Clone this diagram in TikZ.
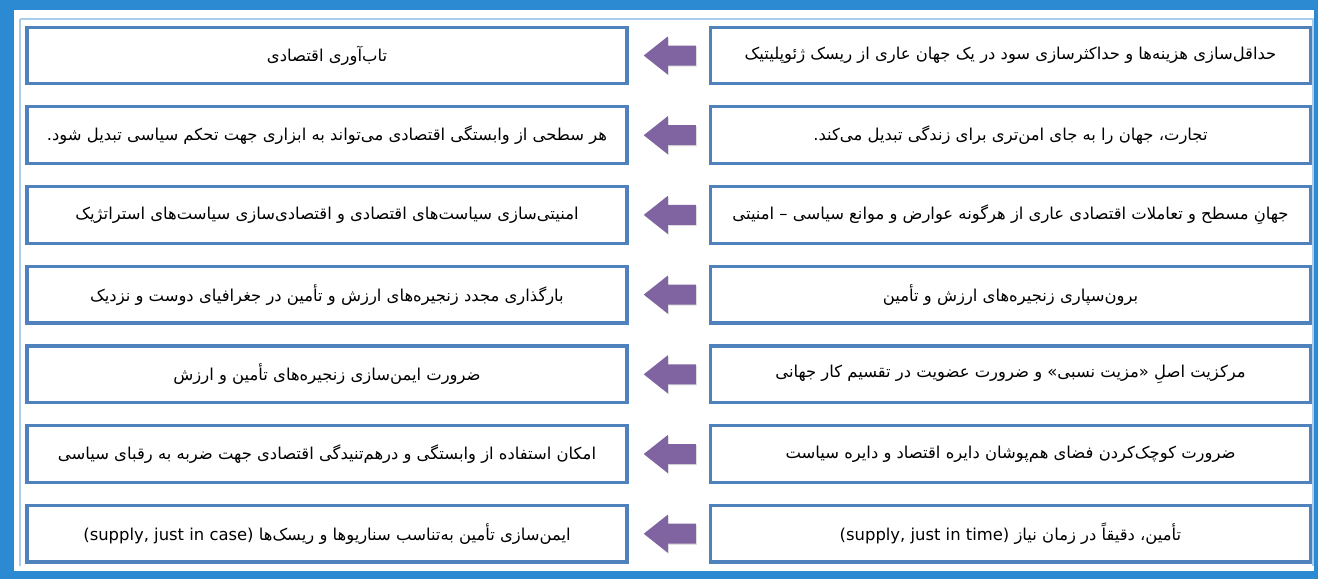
\documentclass[tikz,border=0pt]{standalone}
\usepackage{fontspec}
\TeXXeTstate=1
\newfontfamily\fa[Script=Arabic]{DejaVu Sans}
\usetikzlibrary{calc,shadows}
\definecolor{frameblue}{HTML}{2C8AD3}
\definecolor{lightline}{HTML}{A9CDEB}
\definecolor{boxblue}{HTML}{4F81BD}
\definecolor{arrowpurple}{HTML}{8064A2}
\newcommand\rtltext[1]{{\fa\beginR #1\endR}}
\newcommand\blockarrow[1]{%
  \fill[arrowpurple, drop shadow={shadow xshift=0.8pt, shadow yshift=-0.8pt, fill=black!25}]
    ($(#1)+(-25,0)$) -- ++(24,-19) -- ++(0,9) -- ++(28,0) -- ++(0,20) -- ++(-28,0) -- ++(0,9) -- cycle;}
\begin{document}
\begin{tikzpicture}[x=0.75pt,y=-0.75pt,
  txtbox/.style={draw=boxblue, line width=2.4pt, fill=white,
    minimum width=450pt, minimum height=42.5pt, inner sep=0pt,
    font=\fontsize{12.3}{14}\selectfont,
    drop shadow={shadow xshift=1pt, shadow yshift=-1pt, fill=black!30}}]
\useasboundingbox (0,0) rectangle (1318,579);
\fill[frameblue] (0,0) rectangle (1318,579);
\fill[white] (14,10) rectangle (1314,571);
\draw[lightline, line width=1pt] (20,19) -- (20,566) (20,19) -- (1313,19) -- (1313,566);
% rows
\node[txtbox] (R1) at (1010.5,55.5) {\rtltext{حداقل‌سازی هزینه‌ها و حداکثرسازی سود در یک جهان عاری از ریسک ژئوپلیتیک}};
\node[txtbox] (L1) at (327,55.5) {\rtltext{تاب‌آوری اقتصادی}};
\node[txtbox] (R2) at (1010.5,135.2) {\rtltext{تجارت، جهان را به جای امن‌تری برای زندگی تبدیل می‌کند.}};
\node[txtbox] (L2) at (327,135.2) {\rtltext{هر سطحی از وابستگی اقتصادی می‌تواند به ابزاری جهت تحکم سیاسی تبدیل شود.}};
\node[txtbox] (R3) at (1010.5,214.9) {\rtltext{جهانِ مسطح و تعاملات اقتصادی عاری از هرگونه عوارض و موانع سیاسی – امنیتی}};
\node[txtbox] (L3) at (327,214.9) {\rtltext{امنیتی‌سازی سیاست‌های اقتصادی و اقتصادی‌سازی سیاست‌های استراتژیک}};
\node[txtbox] (R4) at (1010.5,294.6) {\rtltext{برون‌سپاری زنجیره‌های ارزش و تأمین}};
\node[txtbox] (L4) at (327,294.6) {\rtltext{بارگذاری مجدد زنجیره‌های ارزش و تأمین در جغرافیای دوست و نزدیک}};
\node[txtbox] (R5) at (1010.5,374.3) {\rtltext{مرکزیت اصلِ «مزیت نسبی» و ضرورت عضویت در تقسیم کار جهانی}};
\node[txtbox] (L5) at (327,374.3) {\rtltext{ضرورت ایمن‌سازی زنجیره‌های تأمین و ارزش}};
\node[txtbox] (R6) at (1010.5,454) {\rtltext{ضرورت کوچک‌کردن فضای هم‌پوشان دایره اقتصاد و دایره سیاست}};
\node[txtbox] (L6) at (327,454) {\rtltext{امکان استفاده از وابستگی و درهم‌تنیدگی اقتصادی جهت ضربه به رقبای سیاسی}};
\node[txtbox] (R7) at (1010.5,533.7) {\rtltext{تأمین، دقیقاً در زمان نیاز \beginL(supply, just in time)\endL}};
\node[txtbox] (L7) at (327,533.7) {\rtltext{ایمن‌سازی تأمین به‌تناسب سناریوها و ریسک‌ها \beginL(supply, just in case)\endL}};
% arrows
\foreach \i in {1,...,7}{
  \coordinate (M\i) at ($(L\i.east)!0.5!(R\i.west)$);
  \blockarrow{M\i}
}
\end{tikzpicture}
\end{document}
